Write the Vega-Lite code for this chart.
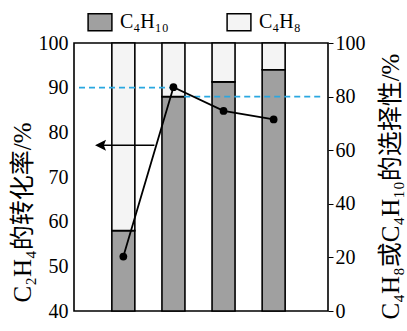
{
  "$schema": "https://vega.github.io/schema/vega-lite/v6.json",
  "autosize": "none",
  "width": 254,
  "height": 268,
  "padding": {"left": 74, "top": 43, "right": 79, "bottom": 20},
  "config": {
    "view": {"stroke": "black", "strokeWidth": 1.6},
    "font": "Liberation Serif, Times New Roman, serif",
    "axis": {"grid": false, "labelFont": "Liberation Serif, Times New Roman, serif", "labelFontSize": 20, "labelColor": "black", "titleFont": "Liberation Serif, Times New Roman, Noto Sans CJK SC, serif", "titleFontSize": 25, "titleFontWeight": "normal", "titleColor": "black", "tickColor": "black", "domain": false}
  },
  "datasets": {
    "sel": [
      {"x": 0, "type": "C4H10", "v": 30},
      {"x": 0, "type": "C4H8", "v": 70},
      {"x": 2, "type": "C4H10", "v": 80},
      {"x": 2, "type": "C4H8", "v": 20},
      {"x": 4, "type": "C4H10", "v": 85.5},
      {"x": 4, "type": "C4H8", "v": 14.5},
      {"x": 6, "type": "C4H10", "v": 90},
      {"x": 6, "type": "C4H8", "v": 10}
    ],
    "conv": [
      {"x": 0, "y": 52.2},
      {"x": 2, "y": 90.1},
      {"x": 4, "y": 84.8},
      {"x": 6, "y": 82.9}
    ],
    "refs": [
      {"x0": -1.77, "x1": 2, "y": 90},
      {"x0": 2.43, "x1": 7.97, "y": 88}
    ],
    "arrow": [{"x0": -1.0, "x1": 1.24, "tip": -1.13, "y": 77.1}]
  },
  "layer": [
    {
      "data": {"name": "sel"},
      "mark": {"type": "bar", "width": 23, "stroke": "black", "strokeWidth": 1.6},
      "encoding": {
        "x": {"field": "x", "type": "quantitative", "scale": {"domain": [-1.77, 7.97], "nice": false, "zero": false},
              "axis": {"values": [0, 2, 4, 6], "ticks": false, "labelPadding": 5, "title": null}},
        "y": {"field": "v", "type": "quantitative", "stack": "zero", "scale": {"domain": [0, 100], "nice": false},
              "axis": {"orient": "right", "values": [0, 20, 40, 60, 80, 100], "tickSize": 5, "labelPadding": 2,
                       "title": "C₄H₈或C₄H₁₀的选择性/%", "titleAngle": 270, "titleAlign": "center", "titlePadding": 38, "titleY": 143}},
        "color": {"field": "type", "type": "nominal",
                  "scale": {"domain": ["C4H10", "C4H8"], "range": ["#a0a0a0", "#f4f4f4"]},
                  "legend": {"orient": "none", "legendX": 16, "legendY": -31, "direction": "horizontal", "title": null, "padding": 0,
                             "labelExpr": "datum.label == 'C4H10' ? 'C₄H₁₀' : 'C₄H₈'",
                             "labelFont": "Liberation Serif, Times New Roman, serif", "labelFontSize": 20, "labelColor": "black",
                             "symbolType": "M-1.4,-1H1.4V1H-1.4Z", "symbolSize": 289, "symbolStrokeColor": "black", "symbolStrokeWidth": 1.5,
                             "labelOffset": 10, "columnPadding": 55}},
        "order": {"field": "type", "sort": "ascending"}
      }
    },
    {
      "encoding": {
        "y": {"field": "y", "type": "quantitative", "scale": {"domain": [40, 100], "nice": false, "zero": false},
              "axis": {"orient": "left", "values": [40, 50, 60, 70, 80, 90, 100], "tickSize": 0, "labelPadding": 6,
                       "title": "C₂H₄的转化率/%", "titleAlign": "center", "titlePadding": 3, "titleY": 169}}
      },
      "layer": [
        {
          "data": {"name": "refs"},
          "mark": {"type": "rule", "color": "#2aa7e0", "strokeWidth": 1.6, "strokeDash": [6, 4]},
          "encoding": {
            "x": {"field": "x0", "type": "quantitative", "scale": {"domain": [-1.77, 7.97], "nice": false, "zero": false}, "axis": null},
            "x2": {"field": "x1"}
          }
        },
        {
          "data": {"name": "conv"},
          "mark": {"type": "line", "color": "black", "strokeWidth": 1.8},
          "encoding": {
            "x": {"field": "x", "type": "quantitative", "scale": {"domain": [-1.77, 7.97], "nice": false, "zero": false}, "axis": null}
          }
        },
        {
          "data": {"name": "conv"},
          "mark": {"type": "point", "filled": true, "color": "black", "size": 60, "opacity": 1},
          "encoding": {
            "x": {"field": "x", "type": "quantitative", "scale": {"domain": [-1.77, 7.97], "nice": false, "zero": false}, "axis": null}
          }
        },
        {
          "data": {"name": "arrow"},
          "mark": {"type": "rule", "color": "black", "strokeWidth": 1.6},
          "encoding": {
            "x": {"field": "x0", "type": "quantitative", "scale": {"domain": [-1.77, 7.97], "nice": false, "zero": false}, "axis": null},
            "x2": {"field": "x1"}
          }
        },
        {
          "data": {"name": "arrow"},
          "mark": {"type": "point", "filled": true, "color": "black", "opacity": 1, "size": 121, "shape": "M0,0L2,-1L1.6,0L2,1Z"},
          "encoding": {
            "x": {"field": "tip", "type": "quantitative", "scale": {"domain": [-1.77, 7.97], "nice": false, "zero": false}, "axis": null}
          }
        }
      ]
    }
  ],
  "resolve": {"scale": {"y": "independent", "color": "independent"}}
}
